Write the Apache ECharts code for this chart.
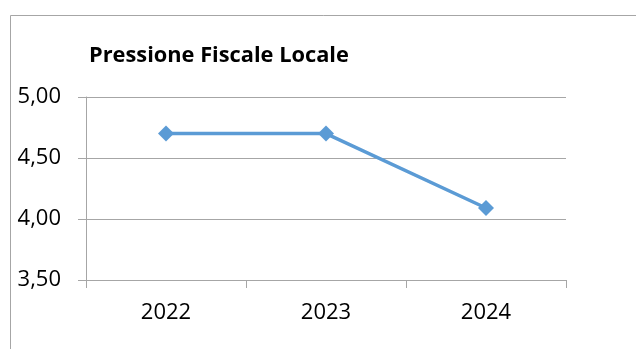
<!DOCTYPE html>
<html><head><meta charset="utf-8">
<script src="https://cdn.jsdelivr.net/npm/echarts@6/dist/echarts.min.js"></script>
<style>html,body{margin:0;padding:0;background:#fff}#c{width:636px;height:349px}</style>
</head><body><div id="c"></div>
<script>
const titleText = "Pressione Fiscale Locale";
const categories = ["2022", "2023", "2024"];
const values = [4.70, 4.70, 4.09];
const yMin = 3.5, yMax = 5.0, yStep = 0.5;

const chart = echarts.init(document.getElementById('c'), null, {renderer: 'canvas'});
const font = '"Open Sans", "Noto Sans", sans-serif';
chart.setOption({
  animation: false,
  backgroundColor: '#fff',
  graphic: [{
    type: 'rect', silent: true,
    shape: {x: 10.5, y: 15.5, width: 700, height: 400},
    style: {fill: 'none', stroke: '#a6a6a6', lineWidth: 1}
  }],
  title: {
    text: titleText, left: 89, top: 45, padding: 0,
    textStyle: {fontFamily: font, fontWeight: 'bold', fontSize: 21.8, color: '#000'}
  },
  grid: {left: 86, right: 70, top: 97, bottom: 69, containLabel: false},
  xAxis: {
    type: 'category', data: categories, boundaryGap: true,
    axisLine: {lineStyle: {color: '#a6a6a6', width: 1}},
    axisTick: {show: true, length: 8, lineStyle: {color: '#a6a6a6'}},
    axisLabel: {fontFamily: font, fontSize: 22, color: '#000', margin: 22}
  },
  yAxis: {
    type: 'value', min: yMin, max: yMax, interval: yStep,
    axisLine: {show: true, lineStyle: {color: '#a6a6a6', width: 1}},
    axisTick: {show: true, length: 8, lineStyle: {color: '#a6a6a6'}},
    splitLine: {lineStyle: {color: '#a6a6a6', width: 1}},
    axisLabel: {fontFamily: font, fontSize: 22, color: '#000', margin: 25,
      formatter: v => v.toFixed(2).replace('.', ',')}
  },
  series: [{
    type: 'line', data: values,
    symbol: 'diamond', symbolSize: 16,
    lineStyle: {color: '#5b9bd5', width: 3.5},
    itemStyle: {color: '#5b9bd5'}
  }]
});
</script></body></html>
